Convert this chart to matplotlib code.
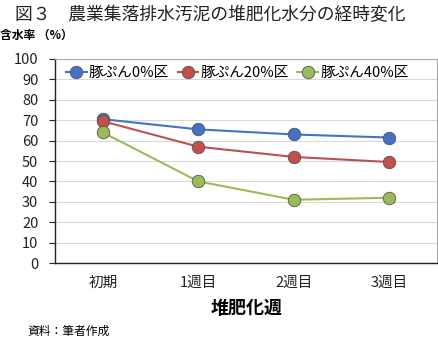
import matplotlib.pyplot as plt

plt.rcParams['font.family'] = ['Noto Sans CJK JP', 'DejaVu Sans']

# データ
weeks = ['初期', '1週目', '2週目', '3週目']
series_names = ['豚ぷん0%区', '豚ぷん20%区', '豚ぷん40%区']
ton0 = [70.5, 65.5, 63, 61.5]
ton20 = [69.5, 57, 52, 49.5]
ton40 = [64, 40, 31, 32]
colors = ['#4472C4', '#C0504D', '#9BBB59']

fig = plt.figure(figsize=(4.38, 3.41), dpi=100)
ax = fig.add_axes([0.1256, 0.2287, 0.8724, 0.5983])

x = range(len(weeks))
for vals, name, c in zip([ton0, ton20, ton40], series_names, colors):
    ax.plot(x, vals, color=c, lw=1.5, marker='o', markersize=9,
            markerfacecolor=c, markeredgecolor='#555555', markeredgewidth=0.6,
            label=name)

ax.set_xlim(-0.5, 3.5)
ax.set_ylim(0, 100)
ax.set_yticks(range(0, 101, 10))
ax.set_xticks(list(x))
ax.set_xticklabels(weeks)
ax.tick_params(axis='x', length=0, pad=9, labelsize=10.5, colors='#222222')
ax.tick_params(axis='y', length=4, width=0.8, pad=8, labelsize=10.5, colors='#222222')
ax.grid(axis='y', color='#d9d9d9', lw=0.8)
ax.set_axisbelow(True)
for s in ['left', 'bottom']:
    ax.spines[s].set_color('#222222')
    ax.spines[s].set_linewidth(1.0)
for s in ['top', 'right']:
    ax.spines[s].set_color('#aaaaaa')
    ax.spines[s].set_linewidth(0.8)

ax.legend(loc='upper left', ncol=3, frameon=False, fontsize=10.5,
          bbox_to_anchor=(0.01, 1.0), handlelength=1.4, columnspacing=0.6,
          handletextpad=0.15, borderaxespad=0.1)

fig.text(0.035, 0.955, '図３　農業集落排水汚泥の堆肥化水分の経時変化',
         fontsize=12.8, color='#222222', va='center')
fig.text(0.0, 0.895, '含水率 （%）', fontsize=8.5, fontweight='bold', va='center')
fig.text(0.562, 0.094, '堆肥化週', fontsize=13, fontweight='bold', ha='center', va='center')
fig.text(0.062, 0.027, '資料：筆者作成', fontsize=8.5, va='center')

fig.savefig('out.png', dpi=100)
